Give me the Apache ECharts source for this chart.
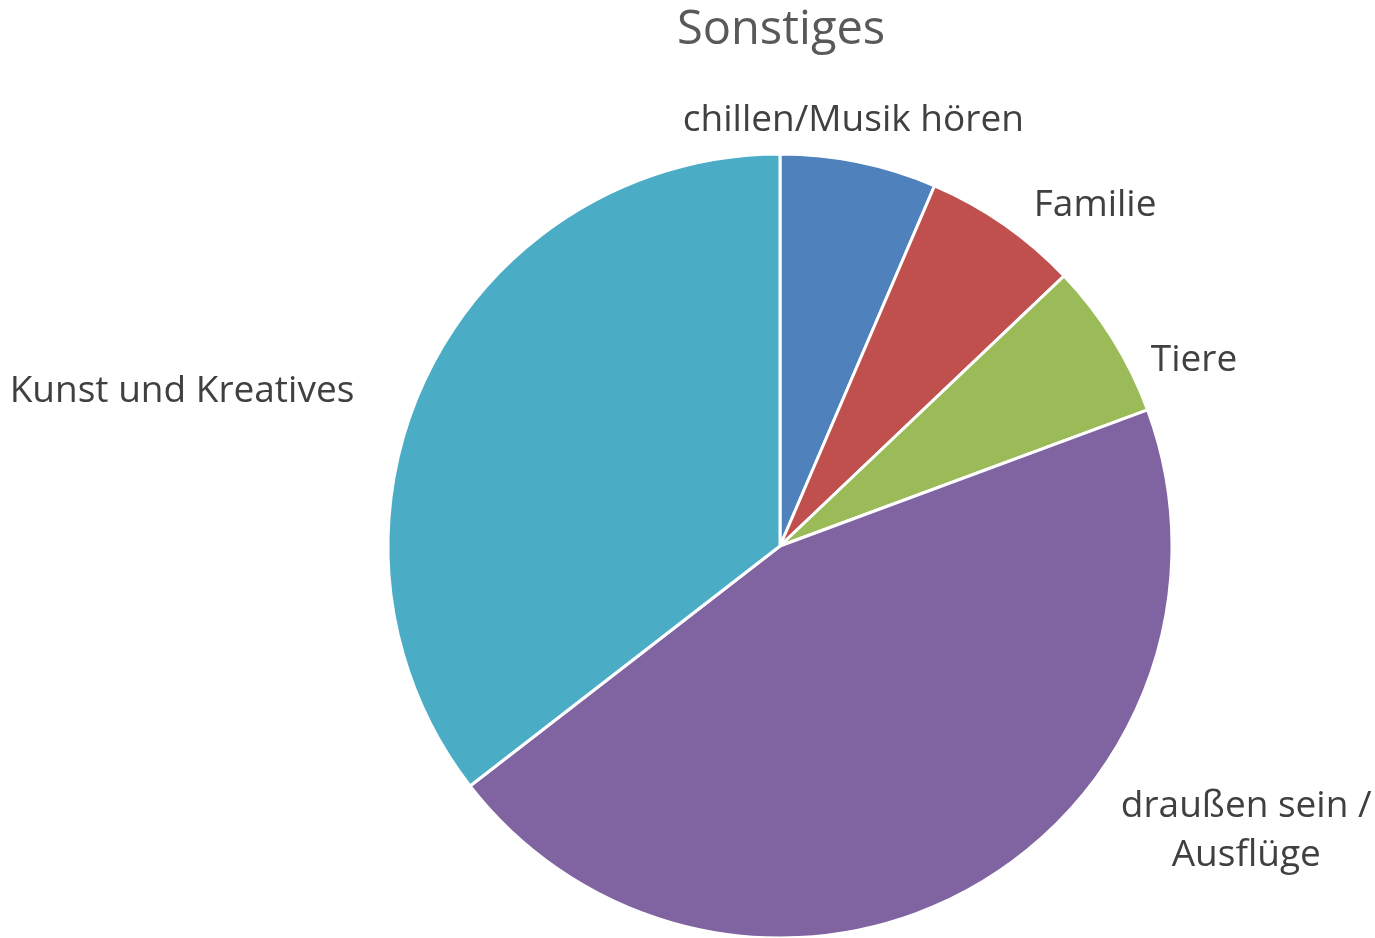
<!DOCTYPE html>
<html>
<head>
<meta charset="utf-8">
<script src="https://cdn.jsdelivr.net/npm/echarts@6/dist/echarts.min.js"></script>
<style>
html,body{margin:0;padding:0;background:#fff;}
#chart{width:1375px;height:938px;}
</style>
</head>
<body>
<div id="chart"></div>
<script>
const titleText = 'Sonstiges';
const categories = ['chillen/Musik hören', 'Familie', 'Tiere', 'draußen sein / Ausflüge', 'Kunst und Kreatives'];
const values = [2, 2, 2, 14, 11];
const colors = ['#4F81BD', '#C0504D', '#9BBB59', '#8064A2', '#4BACC6'];

// label placement along each slice's label line: [length, length2]
const labelPlacement = [[42, -19], [23, 73], [-42, 112], [-66, 303], [-40, 277]];

const chart = echarts.init(document.getElementById('chart'));
chart.setOption({
  animation: false,
  backgroundColor: '#ffffff',
  title: {
    text: titleText,
    left: 677,
    top: 7,
    padding: 0,
    textStyle: { fontFamily: 'Open Sans', fontSize: 47, fontWeight: 'normal', color: '#595959' }
  },
  series: [{
    type: 'pie',
    center: [780, 546],
    radius: 392,
    startAngle: 90,
    clockwise: true,
    avoidLabelOverlap: false,
    itemStyle: { borderColor: '#ffffff', borderWidth: 3 },
    label: {
      show: true,
      position: 'outside',
      fontFamily: 'Open Sans',
      fontSize: 37,
      lineHeight: 49,
      color: '#404040',
      formatter: p => p.name.replace(' / ', ' /\n')
    },
    labelLine: { show: false },
    labelLayout: () => ({ align: 'center' }),
    emphasis: { disabled: true },
    data: categories.map((name, i) => ({
      name: name,
      value: values[i],
      itemStyle: { color: colors[i] },
      labelLine: { show: false, length: labelPlacement[i][0], length2: labelPlacement[i][1] }
    }))
  }]
});
</script>
</body>
</html>
